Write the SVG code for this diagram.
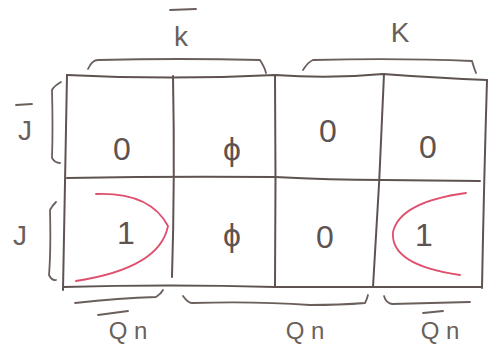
<svg xmlns="http://www.w3.org/2000/svg" width="493" height="353" viewBox="0 0 493 353">
<style>
.ln{fill:none;stroke:#5e5350;stroke-width:2;stroke-linecap:round;stroke-linejoin:round}
.br{fill:none;stroke:#6a5f5b;stroke-width:1.8;stroke-linecap:round;stroke-linejoin:round}
.loop{fill:none;stroke:#e0506e;stroke-width:1.8;stroke-linecap:round}
.v{font-family:"Liberation Sans",sans-serif;font-size:32px;fill:#5e5350;text-anchor:middle}
.lb{font-family:"Liberation Sans",sans-serif;font-size:28px;fill:#6a5f5b;text-anchor:middle}
.sm{font-family:"Liberation Sans",sans-serif;font-size:24px;fill:#6a5f5b;text-anchor:middle}
</style>
<rect width="493" height="353" fill="#ffffff"/>
<g id="grid">
<path class="ln" d="M67,75 Q170,80 275,75 Q330,79 383,74 Q440,78 487,80"/>
<path class="ln" d="M67,178 Q170,176 275,177 Q330,180 383,180 L480,181"/>
<path class="ln" d="M63,287 Q170,284 275,287 L482,287"/>
<path class="ln" d="M67,75 Q65,180 63,290"/>
<path class="ln" d="M173,76 Q175,180 172,277"/>
<path class="ln" d="M275,75 Q276,180 275,287"/>
<path class="ln" d="M384,74 Q380,180 373,287"/>
<path class="ln" d="M487,80 Q484,180 482,288"/>
</g>
<g id="cell-00"><text class="v" x="122" y="160">0</text></g>
<g id="cell-01"><text class="v" x="232" y="160">ϕ</text></g>
<g id="cell-02"><text class="v" x="328" y="142">0</text></g>
<g id="cell-03"><text class="v" x="428" y="158">0</text></g>
<g id="cell-10"><text class="v" x="126" y="244">1</text></g>
<g id="cell-11"><text class="v" x="232" y="246">ϕ</text></g>
<g id="cell-12"><text class="v" x="325" y="248">0</text></g>
<g id="cell-13"><text class="v" x="424" y="246">1</text></g>
<g id="label-Kbar">
<text class="lb" x="181" y="46">k</text>
<path class="br" d="M170,10 L196,9"/>
<path class="br" d="M88,69 Q92,60 98,60 Q180,58 260,60 Q265,68 266,73"/>
</g>
<g id="label-K">
<text class="lb" x="400" y="42">K</text>
<path class="br" d="M303,70 Q308,62 313,60 Q400,58 472,61 Q474,68 476,73"/>
</g>
<g id="label-Jbar">
<text class="lb" x="25" y="140">J</text>
<path class="br" d="M16,105 L32,104"/>
<path class="br" d="M61,82 Q54,86 52,90 Q53,130 52,158 Q55,163 60,163"/>
</g>
<g id="label-J">
<text class="lb" x="20" y="245">J</text>
<path class="br" d="M56,202 Q52,206 50,210 Q51,250 49,275 Q52,281 56,280"/>
</g>
<g id="label-Qnbar1">
<text class="sm" x="128" y="339">Q n</text>
<path class="br" d="M98,315 L128,311"/>
<path class="br" d="M75,303 Q120,298 156,297 Q161,294 163,290"/>
</g>
<g id="label-Qn">
<text class="sm" x="305" y="339">Q n</text>
<path class="br" d="M183,296 Q188,303 192,303 Q255,301 310,305 Q340,305 365,303 Q367,299 368,295"/>
</g>
<g id="label-Qnbar2">
<text class="sm" x="440" y="339">Q n</text>
<path class="br" d="M423,313 L443,311"/>
<path class="br" d="M384,296 Q386,303 392,304 Q430,303 470,302"/>
</g>
<g id="groups">
<path class="loop" d="M96,194 Q150,192 168,226 Q160,268 76,281"/>
<path class="loop" d="M466,193 Q400,202 393,232 Q390,265 460,275"/>
</g>
</svg>
